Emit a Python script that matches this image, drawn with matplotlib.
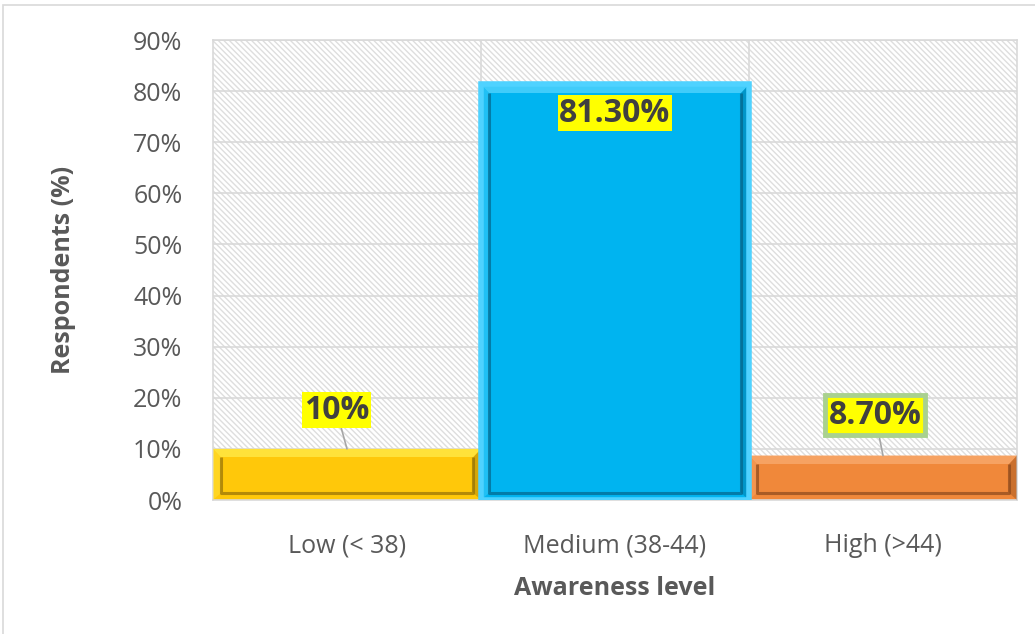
import matplotlib.pyplot as plt
from matplotlib.patches import Rectangle, Polygon

# Niveaux de sensibilisation et pourcentages de répondants
categories = ["Low (< 38)", "Medium (38-44)", "High (>44)"]
values = [10.0, 81.3, 8.7]
value_labels = ["10%", "81.30%", "8.70%"]

bar_colors = ["#FFC80A", "#00B4F0", "#F0883A"]
light_colors = ["#FFE23A", "#40CCFA", "#F6A262"]
dark_colors = ["#8A6A08", "#055F82", "#84441A"]

plt.rcParams['font.family'] = ['Open Sans', 'DejaVu Sans']

fig = plt.figure(figsize=(10.35, 6.34), dpi=100)
ax = fig.add_axes([213 / 1035, 134 / 634, 804 / 1035, 460 / 634])
ax.set_xlim(-0.5, 2.5)
ax.set_ylim(0, 90)

# Cadre extérieur du graphique (ouvert en bas et à droite)
fig.patches.append(Rectangle((3 / 1035, -0.1), 1.2, 1.1 - 5 / 634, transform=fig.transFigure,
                             fill=False, edgecolor="#d9d9d9", linewidth=1.2))

# Fond hachuré de la zone de tracé
ax.add_patch(Rectangle((-0.5, 0), 3, 90, facecolor="white", edgecolor="#dedede",
                       hatch="\\\\\\\\\\\\", linewidth=0, zorder=0))
for s in ax.spines.values():
    s.set_color("#d9d9d9")
    s.set_linewidth(1.2)
ax.set_yticks(range(0, 91, 10))
ax.set_yticklabels([f"{v}%" for v in range(0, 91, 10)])
ax.grid(axis="y", color="#d9d9d9", linewidth=1.2, zorder=1)
for xb in [0.5, 1.5]:
    ax.axvline(xb, color="#d9d9d9", linewidth=1.2, zorder=1)
ax.set_axisbelow(True)

# Barres avec effet biseauté
dx, dy = 0.03, 1.4
for i, v in enumerate(values):
    x0, x1 = i - 0.5, i + 0.5
    ax.add_patch(Rectangle((x0, 0), 1, v, facecolor=bar_colors[i], edgecolor="none", zorder=2))
    ix0, ix1, iy0, iy1 = x0 + dx, x1 - dx, dy, v - dy * 1.2
    ax.add_patch(Polygon([(x0, v), (x1, v), (ix1, iy1), (ix0, iy1)],
                         facecolor=light_colors[i], edgecolor="none", zorder=3))
    ax.add_patch(Polygon([(x0, 0), (x0, v), (ix0, iy1), (ix0, iy0)],
                         facecolor=light_colors[i], edgecolor="none", alpha=0.5, zorder=3))
    ax.add_patch(Polygon([(x1, 0), (x1, v), (ix1, iy1), (ix1, iy0)],
                         facecolor=dark_colors[i], edgecolor="none", alpha=0.35, zorder=3))
    # panneau central avec ombre intérieure
    ax.add_patch(Rectangle((ix0, iy0), ix1 - ix0, iy1 - iy0, facecolor=bar_colors[i],
                           edgecolor="none", zorder=4))
    ax.plot([ix0, ix0, ix1, ix1], [iy1, iy0, iy0, iy1], color=dark_colors[i],
            linewidth=2.2, alpha=0.65, zorder=5, solid_capstyle="butt")
    if i == 1:
        ax.add_patch(Rectangle((x0, 0), 1, v, facecolor="none", edgecolor="#4FD2FF",
                               linewidth=4, zorder=5))

# Étiquettes de valeurs
label_style = dict(ha="center", va="center", fontsize=23, fontweight="bold",
                   color="#404040", zorder=7)
ax.annotate(value_labels[0], xy=(0.0, values[0]), xytext=(-0.04, values[0] + 7.6),
            bbox=dict(boxstyle="square,pad=0.05", facecolor="#FFFF00", edgecolor="none"),
            arrowprops=dict(arrowstyle="-", color="#a6a6a6", lw=1.2, shrinkA=0, shrinkB=0),
            **label_style)
ax.text(1, values[1] - 5.6, value_labels[1],
        bbox=dict(boxstyle="square,pad=0.05", facecolor="#FFFF00", edgecolor="none"),
        **label_style)
ax.annotate(value_labels[2], xy=(2.0, values[2]), xytext=(1.97, values[2] + 7.9),
            bbox=dict(boxstyle="square,pad=0.12", facecolor="#FFFF00", edgecolor="#A9D18E",
                      linewidth=3.5),
            arrowprops=dict(arrowstyle="-", color="#a6a6a6", lw=1.2, shrinkA=0, shrinkB=0),
            **label_style)

ax.set_xticks(range(len(categories)))
ax.set_xticklabels(categories)
ax.tick_params(axis="y", length=0, labelsize=18, labelcolor="#595959", pad=22)
ax.tick_params(axis="x", length=0, labelsize=18, labelcolor="#595959", pad=24)
ax.set_xlabel("Awareness level", fontsize=18, fontweight="bold", color="#595959")
ax.set_ylabel("Respondents (%)", fontsize=18, fontweight="bold", color="#595959")
ax.yaxis.set_label_coords(-0.170, 0.5)
ax.xaxis.set_label_coords(0.5, -0.165)

plt.savefig("out.png", dpi=100)
